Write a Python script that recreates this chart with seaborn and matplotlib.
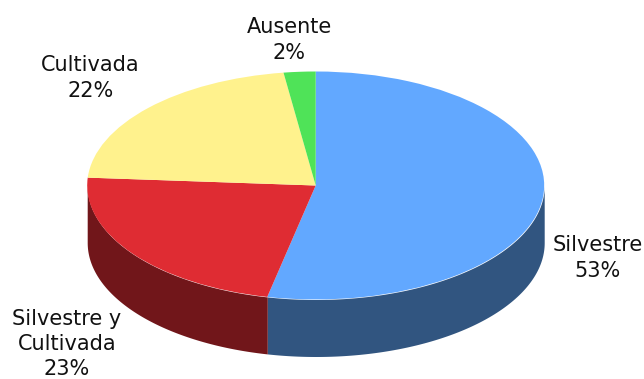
import numpy as np
import matplotlib
matplotlib.use("Agg")
import matplotlib.pyplot as plt
import seaborn as sns

categories = ["Silvestre", "Silvestre y\nCultivada", "Cultivada", "Ausente"]
values = [53.4, 22.7, 21.65, 2.25]
labels = ["53%", "23%", "22%", "2%"]
top_colors = ["#62a8ff", "#df2c33", "#fff28d", "#4fe358"]
side_colors = ["#315580", "#71161a", "#807846", "#26722a"]

sns.set_theme(style="white")
plt.rcParams["font.family"] = ["DejaVu Sans"]

W, H = 644, 379
cx, cy, rx, ry, depth = 315.7, 185.5, 228.5, 114, 57

fig = plt.figure(figsize=(W / 100, H / 100), dpi=100)
ax = fig.add_axes([0, 0, 1, 1])

# Side wall: only the front half of the disc (90 to 270 degrees) is visible
edges = np.concatenate([[0], np.cumsum(values)]) / np.sum(values) * 360
dy = depth / ry
for i, c in enumerate(side_colors):
    a0, a1 = max(edges[i], 90), min(edges[i + 1], 270)
    if a1 <= a0:
        continue
    t = np.radians(np.linspace(a0, a1, 300))
    x = np.sin(t)
    y = np.cos(t)
    ax.fill_between(x, y, y - dy, color=c, lw=0, zorder=1)

# Top face
ax.pie(values, colors=top_colors, startangle=90, counterclock=False,
       radius=1, center=(0, 0), wedgeprops=dict(linewidth=0), frame=True)
for w in ax.patches:
    w.set_zorder(2)

ax.set_aspect("auto")
ax.set_xlim(-cx / rx, (W - cx) / rx)
ax.set_ylim((cy - H) / ry, cy / ry)
ax.axis("off")


def px(x, y):
    return (x - cx) / rx, (cy - y) / ry


positions = [(597.5, 258), (67, 344), (90.5, 78), (289, 40)]
for name, lab, (x, y) in zip(categories, labels, positions):
    tx, ty = px(x, y)
    ax.text(tx, ty, f"{name}\n{lab}", ha="center", va="center",
            fontsize=15, color="#111111", linespacing=1.32, zorder=5)

fig.savefig("out.png", dpi=100, facecolor="white")
